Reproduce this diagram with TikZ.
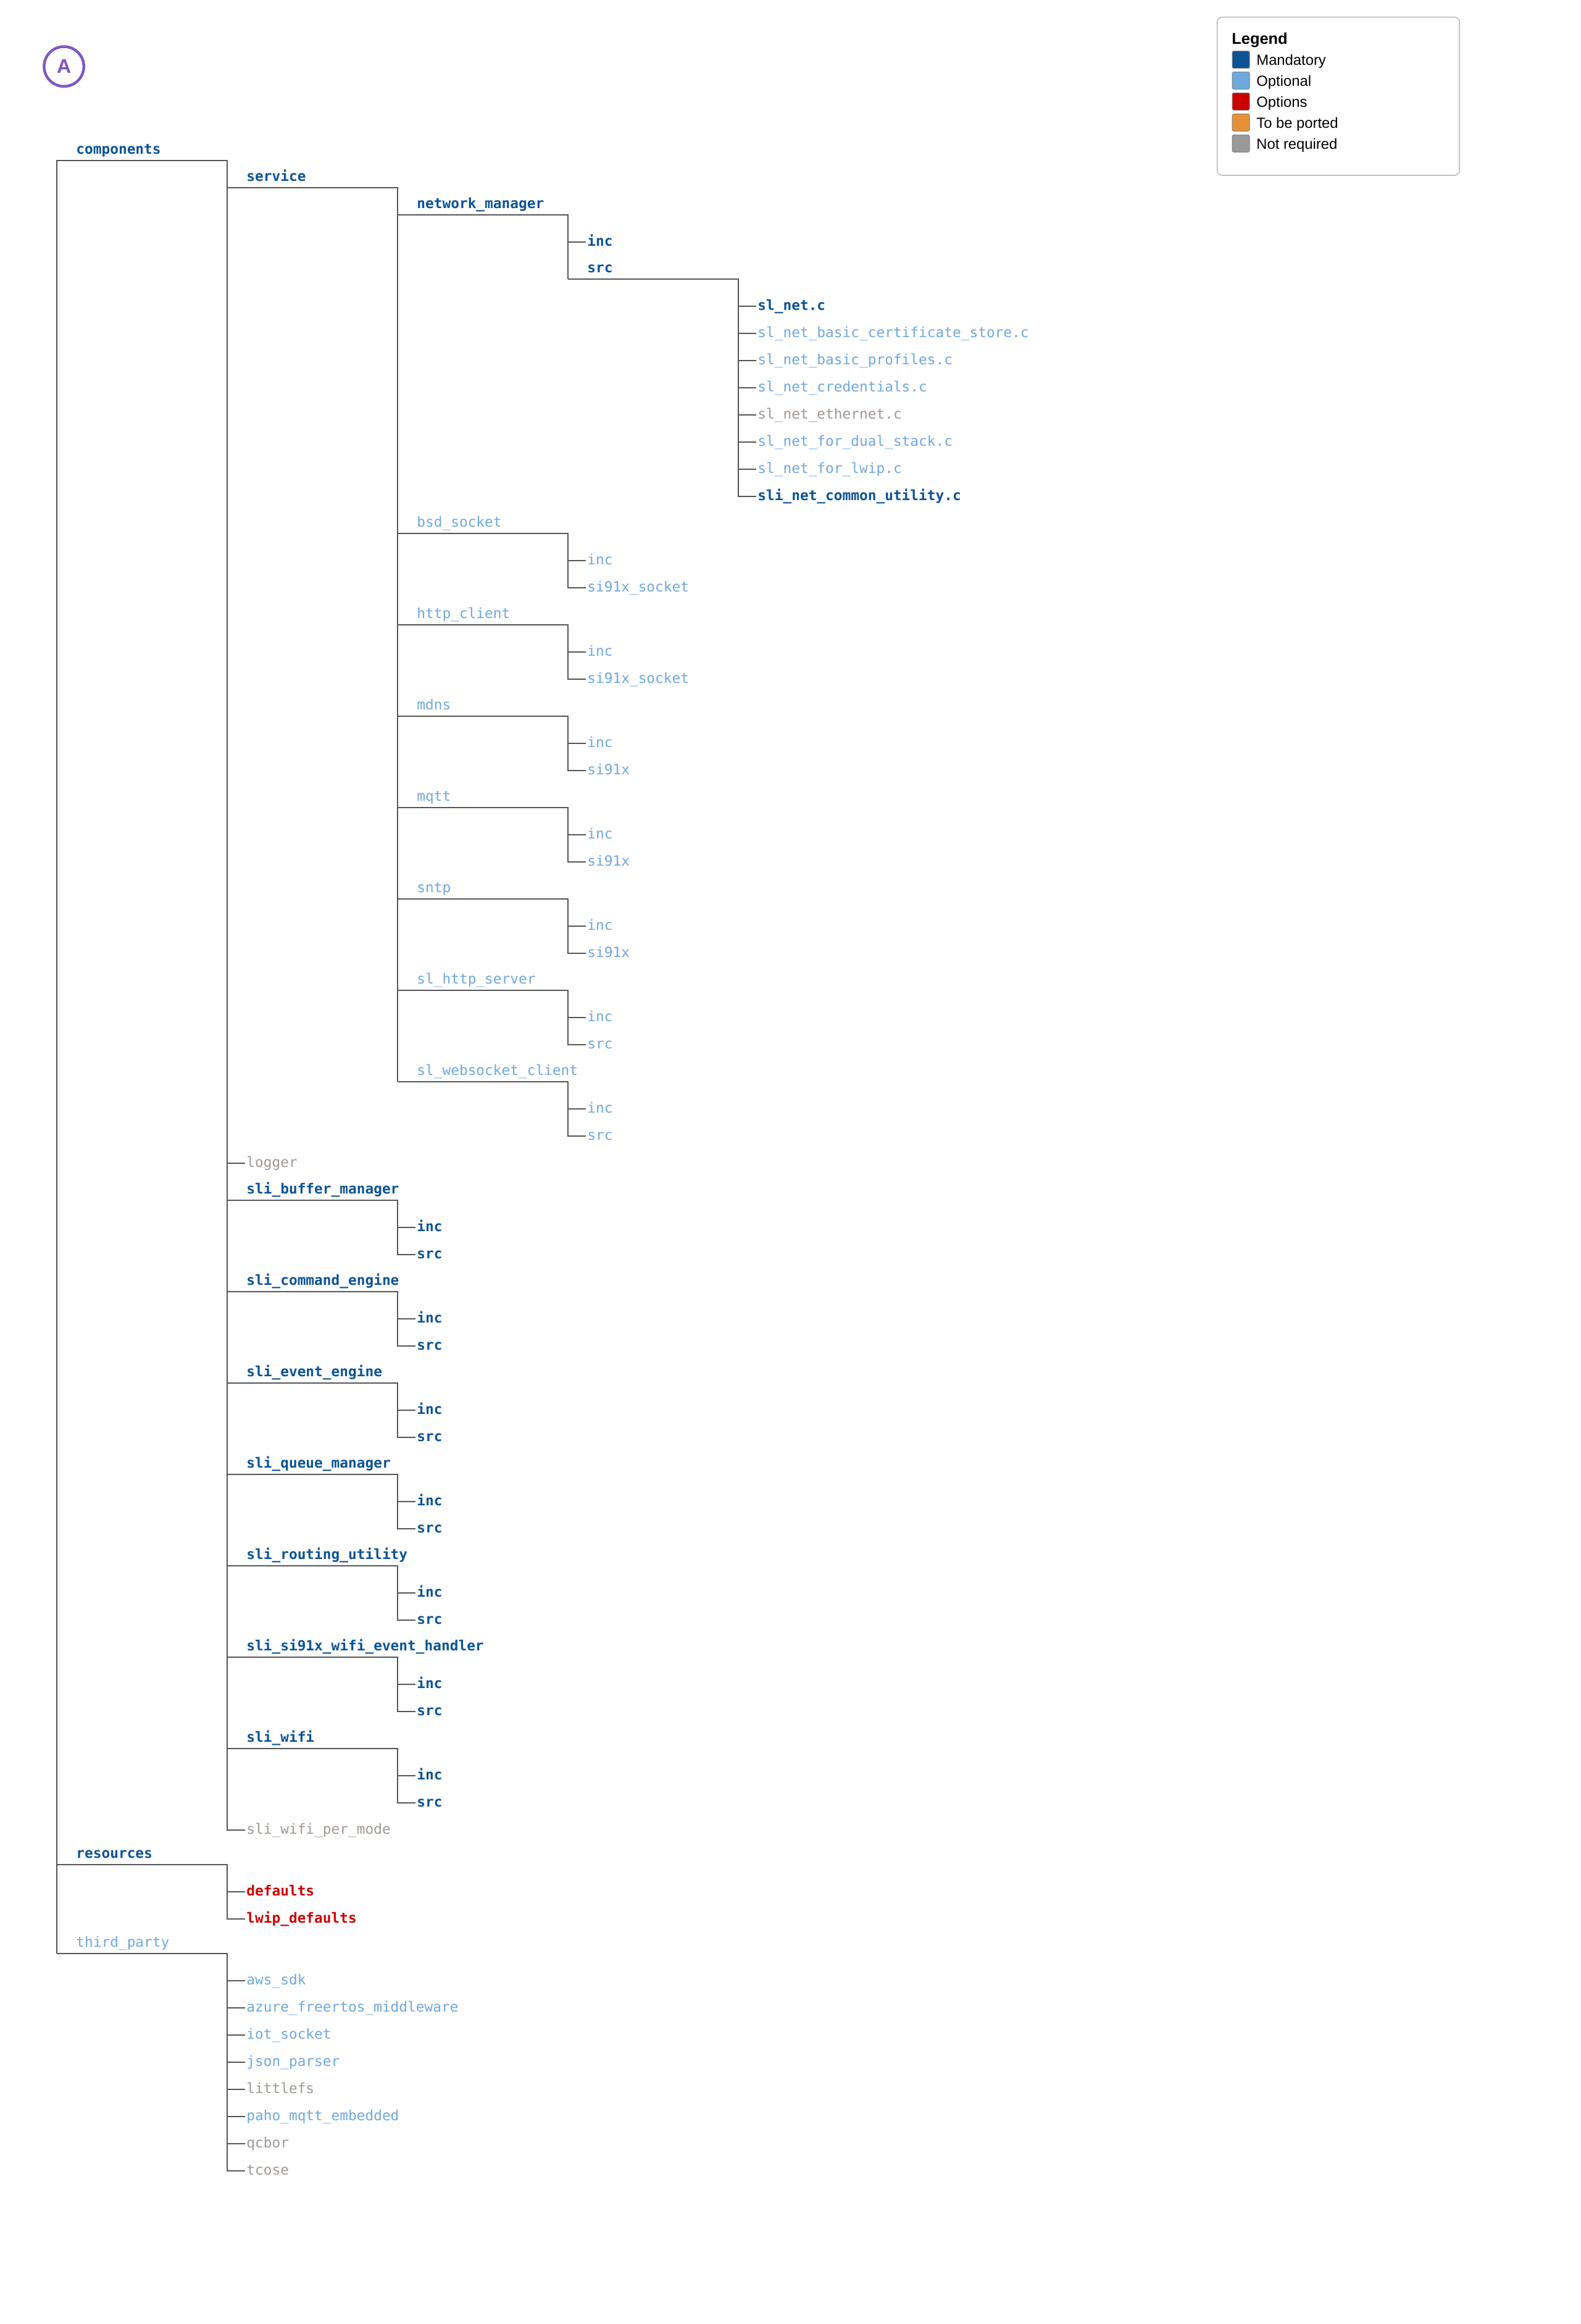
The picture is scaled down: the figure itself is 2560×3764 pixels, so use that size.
\documentclass[tikz,border=0pt]{standalone}
\usepackage{fontspec}
\setmainfont{Liberation Sans}
\setmonofont{DejaVu Sans Mono}

\definecolor{mandblue}{HTML}{0B5394}
\definecolor{optblue}{HTML}{6FA8DC}
\definecolor{optred}{HTML}{CC0000}
\definecolor{portorange}{HTML}{E69138}
\definecolor{notgray}{HTML}{999999}
\definecolor{notgraytext}{HTML}{A09893}
\definecolor{linegray}{HTML}{555555}
\definecolor{boxgray}{HTML}{C0C0C0}
\definecolor{badgepurple}{HTML}{7E57C2}

\newcommand\itemfont{\fontsize{11.4}{13}\selectfont\ttfamily}

\tikzset{
  tree/.style={draw=linegray, line width=0.85pt},
  item/.style={inner xsep=1pt, inner ysep=3pt, text height=8.1pt, text depth=1.9pt, font=\itemfont},
  branch/.style={item, anchor=south west},
  leaf/.style={item, anchor=west},
  mandatory/.style={text=mandblue, font=\itemfont\bfseries},
  optional/.style={text=optblue},
  optionset/.style={text=optred, font=\itemfont\bfseries},
  unused/.style={text=notgraytext},
  swatch/.style={draw=gray, line width=0.4pt, rounded corners=1.2pt, anchor=north west, minimum size=14pt, inner sep=0pt},
  legendtext/.style={anchor=base west, inner sep=0pt, font=\fontsize{11.9}{13}\selectfont},
}

\begin{document}
\begin{tikzpicture}[x=0.5pt, y=-0.5pt]
\fill[white] (0,0) rectangle (2560,3764);
\useasboundingbox (0,0) rectangle (2560,3764);

%% badge
\node[circle, draw=badgepurple, line width=2.2pt, minimum size=32.2pt, text=badgepurple,
  font=\fontsize{16}{16}\selectfont\bfseries] (badgeA) at (103.6,107.7) {A};

%% legend
\draw[draw=boxgray, line width=0.85pt, rounded corners=4pt] (1971.7,27.7) rectangle (2364,284);
\node[anchor=base west, inner sep=0pt, font=\fontsize{12.7}{13}\selectfont\bfseries] (lgTitle) at (1995,71.7) {Legend};
\node[swatch, fill=mandblue] (swMand) at (1995.7,82.3) {};
\node[swatch, fill=optblue] (swOpt) at (1995.7,116) {};
\node[swatch, fill=optred] (swRed) at (1995.7,150) {};
\node[swatch, fill=portorange] (swPort) at (1995.7,184) {};
\node[swatch, fill=notgray] (swNot) at (1995.7,218) {};
\node[legendtext] (lbMand) at (2035,105) {Mandatory};
\node[legendtext] (lbOpt) at (2035,139) {Optional};
\node[legendtext] (lbRed) at (2035,173) {Options};
\node[legendtext] (lbPort) at (2035,207) {To be ported};
\node[legendtext] (lbNot) at (2035,241) {Not required};

%% columns of the tree
\coordinate (c0) at (92,0);
\coordinate (c1) at (368,0);
\coordinate (c2) at (644,0);
\coordinate (c3) at (920,0);
\coordinate (c4) at (1196,0);

%% components / service / network_manager
\node[branch, mandatory] (comp) at (121,260) {components};
\node[branch, mandatory] (svc) at (397,304) {service};
\node[branch, mandatory] (nm) at (673,348) {network\_manager};
\node[leaf, mandatory] (nmInc) at (949,392) {inc};
\node[branch, mandatory] (nmSrc) at (949,452) {src};
\node[leaf, mandatory] (net1) at (1225,496) {sl\_net.c};
\node[leaf, optional] (net2) at (1225,540) {sl\_net\_basic\_certificate\_store.c};
\node[leaf, optional] (net3) at (1225,584) {sl\_net\_basic\_profiles.c};
\node[leaf, optional] (net4) at (1225,628) {sl\_net\_credentials.c};
\node[leaf, unused] (net5) at (1225,672) {sl\_net\_ethernet.c};
\node[leaf, optional] (net6) at (1225,716) {sl\_net\_for\_dual\_stack.c};
\node[leaf, optional] (net7) at (1225,760) {sl\_net\_for\_lwip.c};
\node[leaf, mandatory] (net8) at (1225,804) {sli\_net\_common\_utility.c};

%% optional services
\node[branch, optional] (bsd) at (673,864) {bsd\_socket};
\node[leaf, optional] (bsdInc) at (949,908) {inc};
\node[leaf, optional] (bsdSock) at (949,952) {si91x\_socket};
\node[branch, optional] (http) at (673,1012) {http\_client};
\node[leaf, optional] (httpInc) at (949,1056) {inc};
\node[leaf, optional] (httpSock) at (949,1100) {si91x\_socket};
\node[branch, optional] (mdns) at (673,1160) {mdns};
\node[leaf, optional] (mdnsInc) at (949,1204) {inc};
\node[leaf, optional] (mdnsDrv) at (949,1248) {si91x};
\node[branch, optional] (mqtt) at (673,1308) {mqtt};
\node[leaf, optional] (mqttInc) at (949,1352) {inc};
\node[leaf, optional] (mqttDrv) at (949,1396) {si91x};
\node[branch, optional] (sntp) at (673,1456) {sntp};
\node[leaf, optional] (sntpInc) at (949,1500) {inc};
\node[leaf, optional] (sntpDrv) at (949,1544) {si91x};
\node[branch, optional] (hsrv) at (673,1604) {sl\_http\_server};
\node[leaf, optional] (hsrvInc) at (949,1648) {inc};
\node[leaf, optional] (hsrvSrc) at (949,1692) {src};
\node[branch, optional] (ws) at (673,1752) {sl\_websocket\_client};
\node[leaf, optional] (wsInc) at (949,1796) {inc};
\node[leaf, optional] (wsSrc) at (949,1840) {src};

%% sli modules
\node[leaf, unused] (logger) at (397,1884) {logger};
\node[branch, mandatory] (buf) at (397,1944) {sli\_buffer\_manager};
\node[leaf, mandatory] (bufInc) at (673,1988) {inc};
\node[leaf, mandatory] (bufSrc) at (673,2032) {src};
\node[branch, mandatory] (cmd) at (397,2092) {sli\_command\_engine};
\node[leaf, mandatory] (cmdInc) at (673,2136) {inc};
\node[leaf, mandatory] (cmdSrc) at (673,2180) {src};
\node[branch, mandatory] (evt) at (397,2240) {sli\_event\_engine};
\node[leaf, mandatory] (evtInc) at (673,2284) {inc};
\node[leaf, mandatory] (evtSrc) at (673,2328) {src};
\node[branch, mandatory] (que) at (397,2388) {sli\_queue\_manager};
\node[leaf, mandatory] (queInc) at (673,2432) {inc};
\node[leaf, mandatory] (queSrc) at (673,2476) {src};
\node[branch, mandatory] (rout) at (397,2536) {sli\_routing\_utility};
\node[leaf, mandatory] (routInc) at (673,2580) {inc};
\node[leaf, mandatory] (routSrc) at (673,2624) {src};
\node[branch, mandatory] (evh) at (397,2684) {sli\_si91x\_wifi\_event\_handler};
\node[leaf, mandatory] (evhInc) at (673,2728) {inc};
\node[leaf, mandatory] (evhSrc) at (673,2772) {src};
\node[branch, mandatory] (wifi) at (397,2832) {sli\_wifi};
\node[leaf, mandatory] (wifiInc) at (673,2876) {inc};
\node[leaf, mandatory] (wifiSrc) at (673,2920) {src};
\node[leaf, unused] (per) at (397,2964) {sli\_wifi\_per\_mode};

%% resources / third_party
\node[branch, mandatory] (res) at (121,3020) {resources};
\node[leaf, optionset] (resDef) at (397,3064) {defaults};
\node[leaf, optionset] (resLwip) at (397,3108) {lwip\_defaults};
\node[branch, optional] (tp) at (121,3164) {third\_party};
\node[leaf, optional] (tp1) at (397,3208) {aws\_sdk};
\node[leaf, optional] (tp2) at (397,3252) {azure\_freertos\_middleware};
\node[leaf, optional] (tp3) at (397,3296) {iot\_socket};
\node[leaf, optional] (tp4) at (397,3340) {json\_parser};
\node[leaf, unused] (tp5) at (397,3384) {littlefs};
\node[leaf, optional] (tp6) at (397,3428) {paho\_mqtt\_embedded};
\node[leaf, unused] (tp7) at (397,3472) {qcbor};
\node[leaf, unused] (tp8) at (397,3516) {tcose};

%% connectors
\draw[tree] (c0 |- tp.south) -- (c0 |- comp.south) -- (c1 |- comp.south) -- (c1 |- per.west) -- (per.west);
\draw[tree] (c1 |- svc.south) -- (c2 |- svc.south) -- (c2 |- ws.south);
\draw[tree] (c2 |- nm.south) -- (c3 |- nm.south) -- (c3 |- nmSrc.south);
\draw[tree] (c3 |- nmInc.west) -- (nmInc.west);
\draw[tree] (c3 |- nmSrc.south) -- (c4 |- nmSrc.south) -- (c4 |- net8.west) -- (net8.west);
\foreach \n in {net1,net2,net3,net4,net5,net6,net7}
  \draw[tree] (c4 |- \n.west) -- (\n.west);

\foreach \b/\i/\s in {bsd/bsdInc/bsdSock, http/httpInc/httpSock, mdns/mdnsInc/mdnsDrv,
    mqtt/mqttInc/mqttDrv, sntp/sntpInc/sntpDrv, hsrv/hsrvInc/hsrvSrc, ws/wsInc/wsSrc}{
  \draw[tree] (c2 |- \b.south) -- (c3 |- \b.south) -- (c3 |- \s.west) -- (\s.west);
  \draw[tree] (c3 |- \i.west) -- (\i.west);
}

\draw[tree] (c1 |- logger.west) -- (logger.west);
\foreach \b/\i/\s in {buf/bufInc/bufSrc, cmd/cmdInc/cmdSrc, evt/evtInc/evtSrc, que/queInc/queSrc,
    rout/routInc/routSrc, evh/evhInc/evhSrc, wifi/wifiInc/wifiSrc}{
  \draw[tree] (c1 |- \b.south) -- (c2 |- \b.south) -- (c2 |- \s.west) -- (\s.west);
  \draw[tree] (c2 |- \i.west) -- (\i.west);
}

\draw[tree] (c0 |- res.south) -- (c1 |- res.south) -- (c1 |- resLwip.west) -- (resLwip.west);
\draw[tree] (c1 |- resDef.west) -- (resDef.west);
\draw[tree] (c0 |- tp.south) -- (c1 |- tp.south) -- (c1 |- tp8.west) -- (tp8.west);
\foreach \n in {tp1,tp2,tp3,tp4,tp5,tp6,tp7}
  \draw[tree] (c1 |- \n.west) -- (\n.west);
\end{tikzpicture}
\end{document}
